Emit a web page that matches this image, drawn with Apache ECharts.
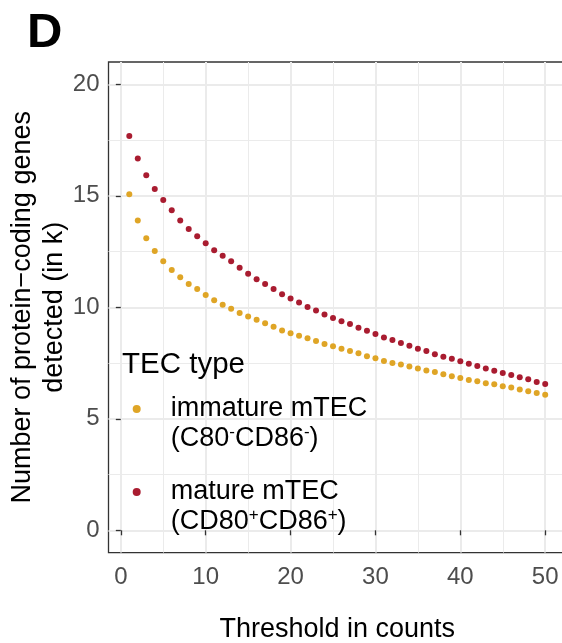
<!DOCTYPE html>
<html>
<head>
<meta charset="utf-8">
<script src="https://cdn.jsdelivr.net/npm/echarts@6/dist/echarts.min.js"></script>
<style>
html,body{margin:0;padding:0;background:#fff;}
#chart{width:562px;height:643px;}
</style>
</head>
<body>
<div id="chart"></div>
<script>
// ---- data ----
const thresholds = [1,2,3,4,5,6,7,8,9,10,11,12,13,14,15,16,17,18,19,20,21,22,23,24,25,26,27,28,29,30,31,32,33,34,35,36,37,38,39,40,41,42,43,44,45,46,47,48,49,50];
const immatureGenes = [15.07,13.89,13.10,12.52,12.07,11.67,11.35,11.05,10.82,10.55,10.32,10.11,9.93,9.75,9.59,9.44,9.28,9.13,8.96,8.84,8.72,8.61,8.49,8.35,8.25,8.14,8.04,7.94,7.81,7.71,7.59,7.50,7.43,7.34,7.26,7.17,7.10,7.00,6.91,6.83,6.74,6.68,6.59,6.55,6.46,6.40,6.31,6.23,6.16,6.08];
const matureGenes = [17.68,16.67,15.92,15.31,14.81,14.35,13.89,13.51,13.19,12.87,12.56,12.31,12.06,11.77,11.50,11.26,11.05,10.82,10.59,10.40,10.21,10.01,9.86,9.68,9.52,9.38,9.25,9.08,8.95,8.80,8.65,8.53,8.40,8.28,8.14,8.04,7.90,7.78,7.69,7.58,7.47,7.37,7.26,7.16,7.05,6.96,6.86,6.77,6.65,6.56];
const xTicks = [0,10,20,30,40,50];
const xMinorTicks = [5,15,25,35,45];
const yTicks = [0,5,10,15,20];
const yMinorTicks = [2.5,7.5,12.5,17.5];
const seriesNames = ['immature mTEC','mature mTEC'];
const legendLabels = {
  'immature mTEC': 'immature mTEC\n(C80{s|-}CD86{s|-})',
  'mature mTEC': 'mature mTEC\n(CD80{s|+}CD86{s|+})'
};

const FONT = 'Liberation Sans, Arial, Helvetica, sans-serif';
const GRID_MAJOR = '#EBEBEB';
const AXIS_DARK = '#333333';

const chart = echarts.init(document.getElementById('chart'), null, {renderer: 'canvas'});

function pairs(xs, ys){ return xs.map((x,i)=>[x, ys[i]]); }

const option = {
  animation: false,
  backgroundColor: '#ffffff',
  textStyle: {fontFamily: FONT},
  title: [
    {text: 'D', left: 22, top: 4, textStyle: {fontFamily: FONT, fontSize: 49, fontWeight: 'bold', color: '#000'}},
    {text: 'TEC type', left: 117, top: 345, textStyle: {fontFamily: FONT, fontSize: 29.5, fontWeight: 'normal', color: '#000'}}
  ],
  grid: {
    left: 108.5, top: 62, right: -4, bottom: 90.4,
    show: true, borderColor: AXIS_DARK, borderWidth: 1.3, backgroundColor: '#fff',
    containLabel: false, outerBoundsMode: 'none'
  },
  xAxis: [
    {
      type: 'value', min: -1.45, max: 52.45, position: 'bottom',
      name: 'Threshold in counts', nameLocation: 'middle', nameGap: 63, nameMoveOverlap: false,
      nameTextStyle: {fontFamily: FONT, fontSize: 27, color: '#000'},
      axisLine: {show: false},
      axisTick: {show: true, length: 5, customValues: xTicks, lineStyle: {color: AXIS_DARK, width: 1.3}},
      axisLabel: {show: true, customValues: xTicks, margin: 13, fontFamily: FONT, fontSize: 24, color: '#4D4D4D', hideOverlap: false},
      splitLine: {show: true, lineStyle: {color: GRID_MAJOR, width: 2}}
    },
    {
      type: 'value', min: -1.45, max: 52.45, position: 'top',
      axisLine: {show: false},
      axisTick: {show: false, customValues: xMinorTicks},
      axisLabel: {show: false, customValues: xMinorTicks},
      splitLine: {show: true, lineStyle: {color: GRID_MAJOR, width: 1}}
    }
  ],
  yAxis: [
    {
      type: 'value', min: -1, max: 21, position: 'left',
      name: 'Number of protein\u2212coding genes\ndetected (in k)', nameLocation: 'middle', nameRotate: 90, nameGap: 38, nameMoveOverlap: false,
      nameTextStyle: {fontFamily: FONT, fontSize: 27, color: '#000', lineHeight: 32},
      axisLine: {show: false},
      axisTick: {show: true, length: 5, customValues: yTicks, lineStyle: {color: AXIS_DARK, width: 1.3}},
      axisLabel: {show: true, customValues: yTicks, margin: 9, fontFamily: FONT, fontSize: 24, color: '#4D4D4D', hideOverlap: false},
      splitLine: {show: true, lineStyle: {color: GRID_MAJOR, width: 2}}
    },
    {
      type: 'value', min: -1, max: 21, position: 'right',
      axisLine: {show: false},
      axisTick: {show: false, customValues: yMinorTicks},
      axisLabel: {show: false, customValues: yMinorTicks},
      splitLine: {show: true, lineStyle: {color: GRID_MAJOR, width: 1}}
    }
  ],
  legend: {
    orient: 'vertical', left: 132.7, top: 364, padding: 0, itemGap: -7,
    icon: 'circle', itemWidth: 8, itemHeight: 8,
    data: seriesNames,
    formatter: function(name){ return legendLabels[name]; },
    textStyle: {
      fontFamily: FONT, fontSize: 27, color: '#000', lineHeight: 30,
      padding: [30, 0, 0, 25],
      rich: {
        s: {fontFamily: FONT, fontSize: 17, color: '#000', verticalAlign: 'top'}
      }
    }
  },
  series: [
    {
      name: seriesNames[0], type: 'scatter', xAxisIndex: 0, yAxisIndex: 0,
      symbol: 'circle', symbolSize: 6,
      itemStyle: {color: '#DFA526', opacity: 1},
      data: pairs(thresholds, immatureGenes)
    },
    {
      name: seriesNames[1], type: 'scatter', xAxisIndex: 0, yAxisIndex: 0,
      symbol: 'circle', symbolSize: 6,
      itemStyle: {color: '#A91C30', opacity: 1},
      data: pairs(thresholds, matureGenes)
    }
  ]
};
chart.setOption(option);
</script>
</body>
</html>
